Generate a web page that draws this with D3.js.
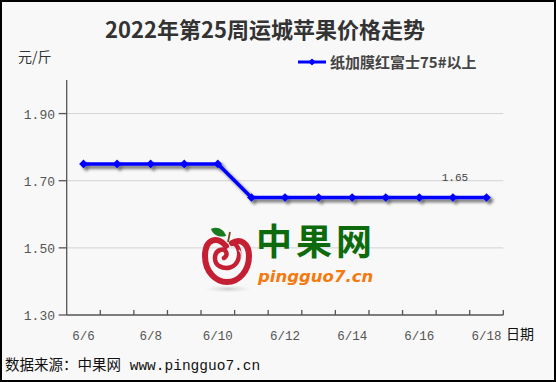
<!DOCTYPE html>
<html><head><meta charset="utf-8">
<script src="https://cdn.jsdelivr.net/npm/d3@7"></script>
<style>html,body{margin:0;padding:0;background:#f8f8f8;}svg{display:block;}</style>
</head><body>
<script>
const categories = ["6/6","6/7","6/8","6/9","6/10","6/11","6/12","6/13","6/14","6/15","6/16","6/17","6/18"];
const values = [1.75,1.75,1.75,1.75,1.75,1.65,1.65,1.65,1.65,1.65,1.65,1.65,1.65];
const seriesName = "纸加膜红富士75#以上";
const yTicks = [1.30,1.50,1.70,1.90];
const xLabels = ["6/6","6/8","6/10","6/12","6/14","6/16","6/18"];
const labelledPoint = "6/17";
const title = "2022年第25周运城苹果价格走势";

const W = 556, H = 382;
const svg = d3.select("body").append("svg").attr("width", W).attr("height", H);
const defs = svg.append("defs");
const f = defs.append("filter").attr("id","shadow").attr("x","-20%").attr("y","-50%").attr("width","140%").attr("height","200%");
f.append("feDropShadow").attr("dx",3).attr("dy",3).attr("stdDeviation",1.6).attr("flood-color","#000").attr("flood-opacity",0.55);
const g2 = defs.append("radialGradient").attr("id","sh");
g2.append("stop").attr("offset","0%").attr("stop-color","#bbb").attr("stop-opacity",0.7);
g2.append("stop").attr("offset","100%").attr("stop-color","#ddd").attr("stop-opacity",0);

svg.append("rect").attr("x",0).attr("y",0).attr("width",W).attr("height",H).attr("fill","#f8f8f8");

const L = 66.7, R = 503.3, T = 80, B = 315;
const x = d3.scaleBand().domain(categories).range([L, R]).padding(0);
const y = d3.scaleLinear().domain([1.3, 2.0]).range([B, T]);
const cx = d => x(d) + x.bandwidth()/2;
const mono = "'Liberation Mono','DejaVu Sans Mono','Noto Sans CJK SC',monospace";
const cjk = "'Noto Sans CJK SC','Noto Sans',sans-serif";

// title
svg.append("text").attr("x",265).attr("y",38).attr("text-anchor","middle")
  .attr("font-family",cjk).attr("font-weight","bold").attr("font-size",22).attr("fill","#333").text(title);
svg.append("text").attr("x",18).attr("y",62).attr("font-family",cjk).attr("font-size",14).attr("fill","#333").text("元/斤");

// grid
svg.append("g").selectAll("line").data(yTicks.filter(v => v > 1.3)).join("line")
  .attr("x1",L).attr("x2",R).attr("y1",d=>y(d)).attr("y2",d=>y(d))
  .attr("stroke","#d4d4d4").attr("stroke-width",1);

// watermark
const wm = svg.append("g");
wm.append("ellipse").attr("cx",228).attr("cy",289).attr("rx",24).attr("ry",4).attr("fill","url(#sh)");
wm.append("path").attr("d","M226,246 C218,236 205,238 205,256 C205,272 216,282 227,282 C239,282 249,271 249,256 C249,243 240,238 232,243")
  .attr("fill","none").attr("stroke","#c41f33").attr("stroke-width",6).attr("stroke-linecap","round");
wm.append("path").attr("d","M232,243 C238,244 241,252 238,260 C235,268 226,270 219,266 C213,262 214,252 220,250 C226,248 229,255 224,258")
  .attr("fill","none").attr("stroke","#c41f33").attr("stroke-width",4.5).attr("stroke-linecap","round");
wm.append("path").attr("d","M239,250 C241,252 242,255 241,258").attr("fill","none").attr("stroke","#f2c6cc").attr("stroke-width",1.5);
wm.append("path").attr("d","M211,229 C217,226 224,229 226,236 C219,238 213,235 211,229 Z").attr("fill","#1a7a1e");
wm.append("path").attr("d","M228,242 L230,232").attr("stroke","#7a4a1a").attr("stroke-width",1.8);
wm.append("text").attr("x",256).attr("y",255).attr("font-family",cjk).attr("font-weight","bold")
  .attr("font-size",36).attr("fill","#0d6b0d").attr("letter-spacing",4).text("中果网");
wm.append("text").attr("x",258).attr("y",282).attr("font-family","'DejaVu Sans','Liberation Sans',sans-serif")
  .attr("font-weight","bold").attr("font-style","italic").attr("font-size",16.5).attr("fill","#f47a10").text("pingguo7.cn");

// axes
const ax = svg.append("g").attr("stroke","#555").attr("stroke-width",1.3);
ax.append("line").attr("x1",L).attr("x2",L).attr("y1",T).attr("y2",B);
ax.append("line").attr("x1",L).attr("x2",R).attr("y1",B).attr("y2",B);
ax.selectAll(".yt").data(yTicks).join("line").attr("x1",L-8).attr("x2",L).attr("y1",d=>y(d)).attr("y2",d=>y(d));
const bounds = categories.map(c => x(c)).concat([x(categories[categories.length-1]) + x.bandwidth()]);
ax.selectAll(".xt").data(bounds.slice(1)).join("line").attr("x1",d=>d).attr("x2",d=>d).attr("y1",B).attr("y2",B-5);

svg.append("g").selectAll("text").data(yTicks).join("text")
  .attr("x",55).attr("y",d=>y(d)+5).attr("text-anchor","end")
  .attr("font-family",mono).attr("font-size",13).attr("fill","#555").text(d=>d.toFixed(2));
svg.append("g").selectAll("text").data(xLabels).join("text")
  .attr("x",d=>cx(d)).attr("y",340).attr("text-anchor","middle")
  .attr("font-family",mono).attr("font-size",12.5).attr("fill","#555").text(d=>d);
svg.append("text").attr("x",506).attr("y",339).attr("font-family",cjk).attr("font-size",14).attr("fill","#111").text("日期");

// line
const line = d3.line().x((d,i)=>cx(categories[i])).y(d=>y(d));
const sg = svg.append("g").attr("filter","url(#shadow)");
sg.append("path").datum(values).attr("d",line).attr("fill","none").attr("stroke","#0000ff").attr("stroke-width",3.5).attr("stroke-linejoin","round");
sg.selectAll("path.m").data(values).join("path").attr("class","m")
  .attr("d",d3.symbol(d3.symbolSquare,38))
  .attr("transform",(d,i)=>`translate(${cx(categories[i])},${y(d)}) rotate(45)`).attr("fill","#0000ff");

// data label
const li = categories.indexOf(labelledPoint);
svg.append("text").attr("x",cx(labelledPoint)+2).attr("y",y(values[li])-17).attr("text-anchor","middle")
  .attr("font-family",mono).attr("font-size",11).attr("fill","#444").text(values[li].toFixed(2));

// legend
const lg = svg.append("g");
lg.append("line").attr("x1",298).attr("x2",326).attr("y1",62).attr("y2",62).attr("stroke","#0000ff").attr("stroke-width",3);
lg.append("path").attr("d",d3.symbol(d3.symbolSquare,26)).attr("transform","translate(312,62) rotate(45)").attr("fill","#0000ff");
lg.append("text").attr("x",330).attr("y",67.5).attr("font-family",cjk).attr("font-weight","bold").attr("font-size",15).attr("fill","#444").text(seriesName);

// footer
svg.append("text").attr("x",5).attr("y",370).attr("font-family",mono).attr("font-size",14.5).attr("fill","#111").text("数据来源：中果网 www.pingguo7.cn");

// border
svg.append("rect").attr("x",1).attr("y",1).attr("width",W-2).attr("height",H-2).attr("fill","none").attr("stroke","#000").attr("stroke-width",2);
</script>
</body></html>
